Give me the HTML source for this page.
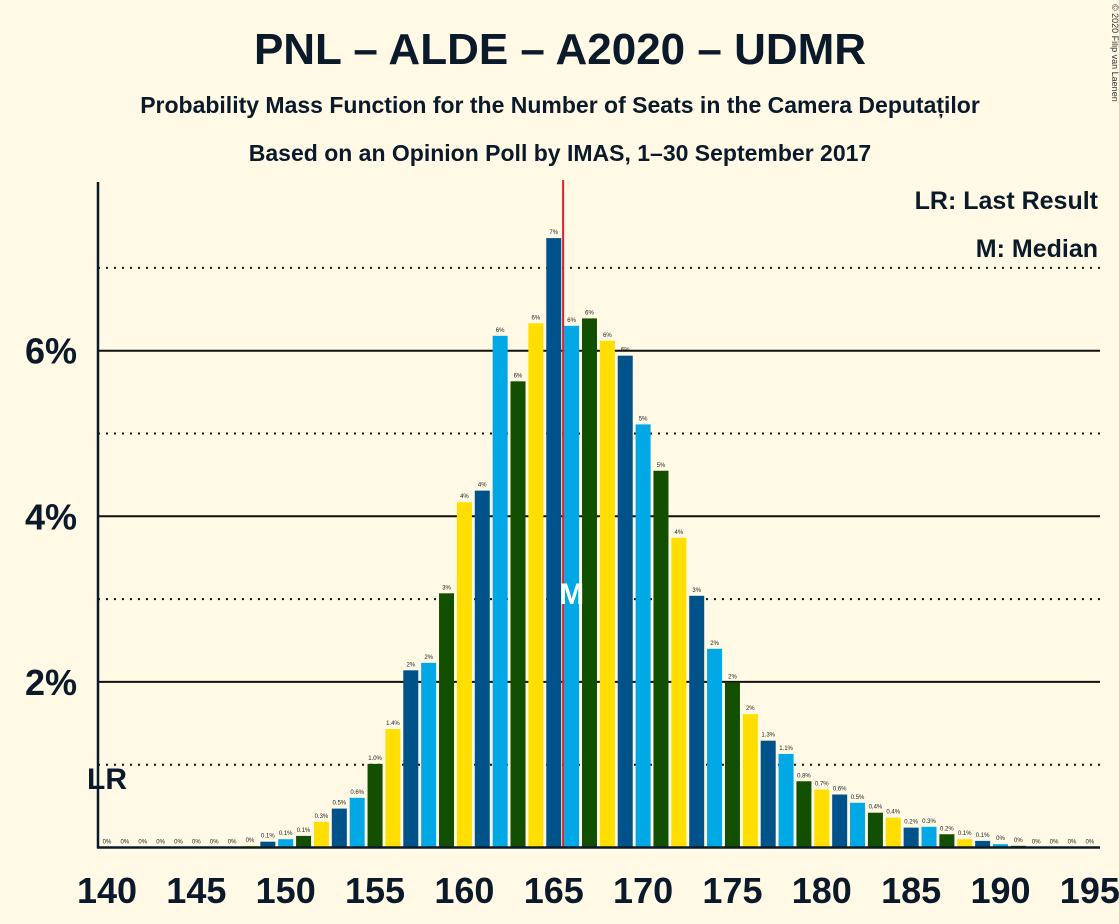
<!DOCTYPE html>
<html><head><meta charset="utf-8"><style>
html,body{margin:0;padding:0;background:#fff9e5;}
svg{display:block;font-family:"Liberation Sans",sans-serif;}
</style></head><body>
<svg id="chart" width="1119" height="924" viewBox="0 0 1119 924">
<rect width="1119" height="924" fill="#fff9e5"/>
<text x="560" y="64" text-anchor="middle" font-size="44" font-weight="bold" fill="#0a1a2a">PNL – ALDE – A2020 – UDMR</text>
<text x="560" y="113" text-anchor="middle" font-size="23" font-weight="bold" fill="#0a1a2a">Probability Mass Function for the Number of Seats in the Camera Deputaților</text>
<text x="560" y="161" text-anchor="middle" font-size="23" font-weight="bold" fill="#0a1a2a">Based on an Opinion Poll by IMAS, 1–30 September 2017</text>
<text x="1112" y="4" font-size="9" fill="#333" transform="rotate(90 1112 4)">© 2020 Filip van Laenen</text>
<text x="1098" y="209" text-anchor="end" font-size="25" font-weight="bold" fill="#0a1a2a">LR: Last Result</text>
<text x="1098" y="257" text-anchor="end" font-size="25" font-weight="bold" fill="#0a1a2a">M: Median</text>
<g id="grid"></g><g id="bars"></g><g id="axes"></g>
</svg>
<script>
const seats = [140,141,142,143,144,145,146,147,148,149,150,151,152,153,154,155,156,157,158,159,160,161,162,163,164,165,166,167,168,169,170,171,172,173,174,175,176,177,178,179,180,181,182,183,184,185,186,187,188,189,190,191,192,193,194,195];
const probs = [0,0,0,0,0,0,0,0,0.02,0.07,0.1,0.14,0.31,0.47,0.6,1.01,1.43,2.14,2.23,3.07,4.17,4.31,6.18,5.63,6.33,7.36,6.3,6.39,6.12,5.94,5.11,4.55,3.74,3.04,2.4,1.99,1.61,1.29,1.13,0.8,0.7,0.64,0.54,0.42,0.36,0.24,0.25,0.16,0.1,0.08,0.04,0.02,0,0,0,0];
const yTicks = [2,4,6];
const yDotted = [1,3,5,7];
const xTicks = [140,145,150,155,160,165,170,175,180,185,190,195];
const lastResult = 140;
const median = 166;
const colors = ["#ffde00","#00538a","#00a8e6","#134f00"];
const NS="http://www.w3.org/2000/svg";
const x0=98,x1=1100,base=847.5;
function xs(s){return 107+(s-140)*17.87;}
function ys(v){return base-v*82.8;}
function mk(tag,attrs,parent){const e=document.createElementNS(NS,tag);for(const k in attrs)e.setAttribute(k,attrs[k]);parent.appendChild(e);return e;}
const grid=document.getElementById('grid'),bars=document.getElementById('bars'),axes=document.getElementById('axes');
yDotted.forEach(v=>{const l=mk('line',{x1:x0,x2:x1,y1:ys(v),y2:ys(v),stroke:'#111','stroke-width':2,'stroke-dasharray':'2,6'},grid);

});
yTicks.forEach(v=>{const l=mk('line',{x1:x0,x2:x1,y1:ys(v),y2:ys(v),stroke:'#111','stroke-width':2},grid);


const t=mk('text',{x:77,y:ys(v)+13,'text-anchor':'end','font-size':36,'font-weight':'bold',fill:'#0a1a2a'},axes);t.textContent=v+'%';

});
seats.forEach((s,i)=>{const v=probs[i];const cx=xs(s);
if(v>0){const r=mk('rect',{x:cx-7.5,y:ys(v),width:15,height:base-ys(v),fill:colors[s%4]},bars);

}
const lab=v<0.05?'0%':(v<1.5?v.toFixed(1)+'%':Math.round(v)+'%');
const t=mk('text',{x:cx,y:ys(v)-4,'text-anchor':'middle','font-size':6,fill:'#222'},bars);t.textContent=lab;

});
const ml=mk('line',{x1:xs(median)-8.5,x2:xs(median)-8.5,y1:180,y2:base,stroke:'#e0202a','stroke-width':2},bars);


const mt=mk('text',{x:xs(median),y:ys(3.1)+13,'text-anchor':'middle','font-size':30,'font-weight':'bold',fill:'#fff'},bars);mt.textContent='M';


const lr=mk('text',{x:xs(lastResult),y:ys(0.85)+12,'text-anchor':'middle','font-size':30,'font-weight':'bold',fill:'#0a1a2a'},bars);lr.textContent='LR';


const ya=mk('line',{x1:x0,x2:x0,y1:182,y2:base+1,stroke:'#0a1a2a','stroke-width':2.5},axes);


const xa=mk('line',{x1:x0-1,x2:x1,y1:base,y2:base,stroke:'#0a1a2a','stroke-width':2.5},axes);


xTicks.forEach(s=>{const t=mk('text',{x:xs(s),y:903,'text-anchor':'middle','font-size':36,'font-weight':'bold',fill:'#0a1a2a'},axes);t.textContent=s;

});
</script>
</body></html>
